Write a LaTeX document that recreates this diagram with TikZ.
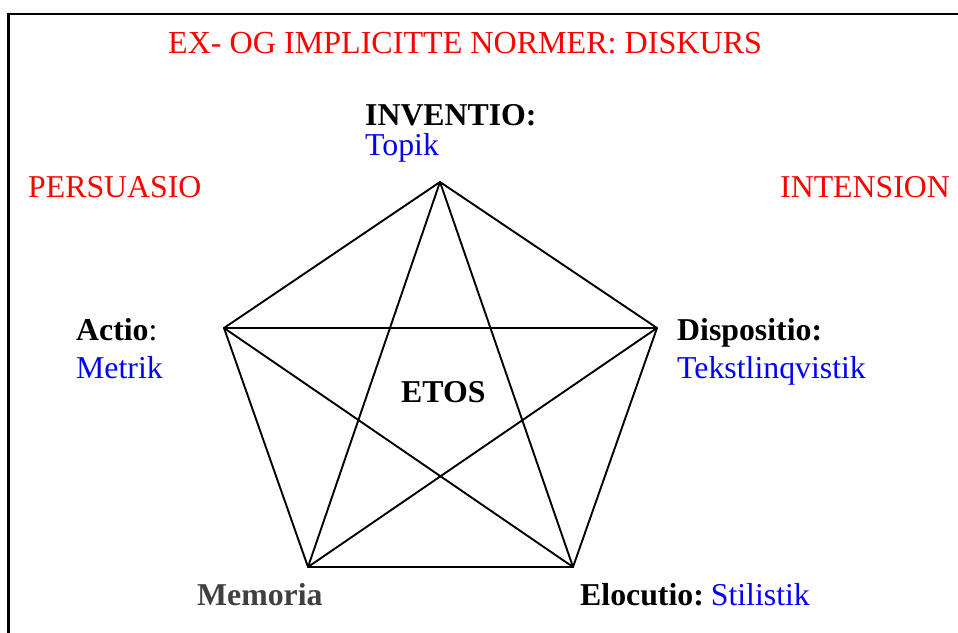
\documentclass[tikz,border=0pt]{standalone}
\usepackage{fontspec}
\setmainfont{Liberation Serif}
\definecolor{tred}{RGB}{255,0,0}
\definecolor{tblue}{RGB}{0,0,255}
\definecolor{tgray}{RGB}{64,64,64}
\begin{document}
\begin{tikzpicture}[x=1pt,y=1pt,
  lbl/.style={inner sep=0pt,anchor=base west,font=\fontsize{31.8}{37}\selectfont},
  edge/.style={line width=1.9pt,line join=round},
  frame/.style={line width=2.2pt}]
\useasboundingbox (0,0) rectangle (958,632);
\fill[white] (0,0) rectangle (958,632);
\draw[frame] (8.5,-5) -- (8.5,618) -- (965,618);
% vertices
\coordinate (T) at (440,450);
\coordinate (L) at (224,304);
\coordinate (R) at (657,304);
\coordinate (BL) at (308,65);
\coordinate (BR) at (573,65);
\draw[edge] (T) -- (R) -- (BR) -- (BL) -- (L) -- cycle;
\draw[edge] (T) -- (BL) -- (R) -- (L) -- (BR) -- cycle;
% texts
\node[lbl,text=tred,font=\fontsize{32.1}{37}\selectfont] (title) at (168,578) {EX- OG IMPLICITTE NORMER: DISKURS};
\node[lbl] (inv) at (365,506) {\textbf{INVENTIO:}};
\node[lbl,text=tblue] (topik) at (365,476) {Topik};
\node[lbl,text=tred] (pers) at (28,434) {PERSUASIO};
\node[lbl,text=tred] (intens) at (780,434) {INTENSION};
\node[lbl] (actio) at (76,291) {\textbf{Actio}:};
\node[lbl,text=tblue] (metrik) at (76,253) {Metrik};
\node[lbl] (disp) at (677,291) {\textbf{Dispositio:}};
\node[lbl,text=tblue] (tekst) at (677,253) {Tekstlinqvistik};
\node[lbl] (etos) at (401,229) {\textbf{ETOS}};
\node[lbl,text=tgray] (mem) at (197,27) {\textbf{Memoria}};
\node[lbl] (eloc) at (580,27) {\textbf{Elocutio:}\hspace{0.22em}\textcolor{tblue}{Stilistik}};
\end{tikzpicture}
\end{document}
